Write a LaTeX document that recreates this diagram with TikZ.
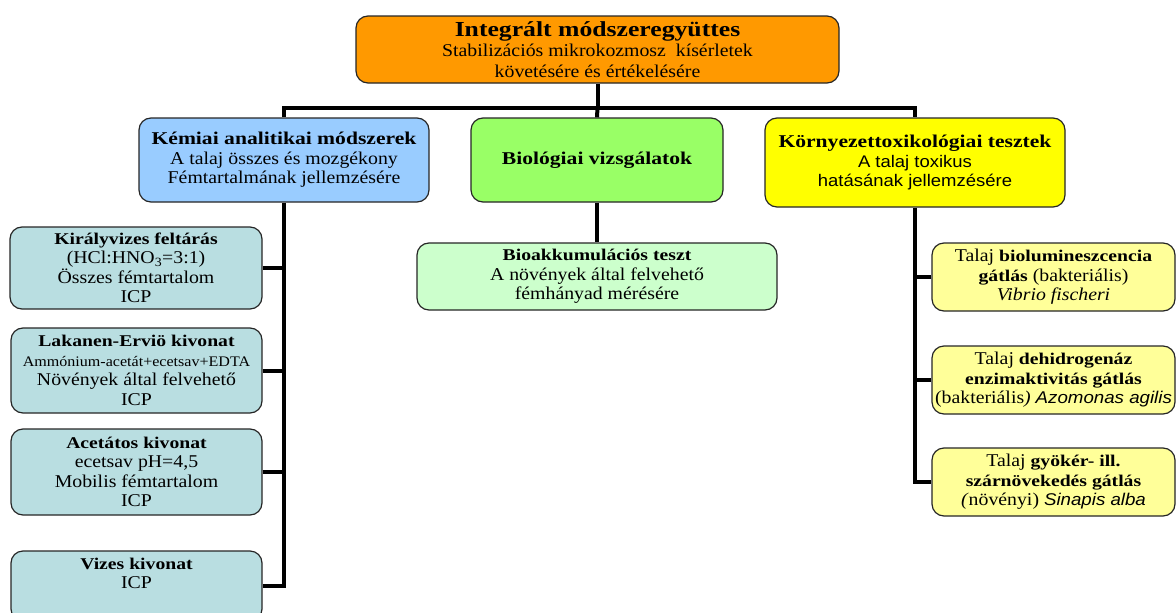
\documentclass[tikz,border=0pt]{standalone}
\usepackage{fontspec}
\setmainfont{Liberation Serif}[FakeStretch=1.1]
\newfontfamily\headfam{Liberation Serif}[FakeStretch=1.2]
\newfontfamily\arialfam{Liberation Sans}[FakeStretch=1.1]
% bold heading text at a given size
\newcommand\hd[2]{{\headfam\bfseries\fontsize{#1}{20}\selectfont #2}}
\newcommand\fs[2]{\fontsize{#1}{#2}\selectfont}

\definecolor{cTop}{HTML}{FF9900}
\definecolor{cChem}{HTML}{99CCFF}
\definecolor{cBio}{HTML}{99FF66}
\definecolor{cEnv}{HTML}{FFFF00}
\definecolor{cChemSub}{RGB}{185,222,225}
\definecolor{cBioSub}{HTML}{CCFFCC}
\definecolor{cEnvSub}{HTML}{FFFF99}

\begin{document}
\begin{tikzpicture}[x=1pt,y=-1pt,
  box/.style={draw=black!85, line width=1.2pt, rounded corners=12pt,
    align=center, inner sep=0pt, font=\fs{18}{19.5}},
  link/.style={line width=4pt, black}]
\useasboundingbox (0,0) rectangle (1176,613);

% top level
\node[box, fill=cTop, minimum width=483pt, minimum height=67pt, font=\fs{18}{20.5}]
  (top) at (597.5,49.5)
  {\hd{21.4}{Integrált módszeregyüttes}\\Stabilizációs mikrokozmosz~ kísérletek\\követésére és értékelésére};

% second level
\node[box, fill=cChem, minimum width=290pt, minimum height=84pt] (kem) at (284,160)
  {\hd{18}{Kémiai analitikai módszerek}\\A talaj összes és mozgékony\\Fémtartalmának jellemzésére};
\node[box, fill=cBio, minimum width=252pt, minimum height=84pt] (bio) at (597,160)
  {\hd{18}{Biológiai vizsgálatok}};
\node[box, fill=cEnv, minimum width=300pt, minimum height=89pt] (env) at (915,162.5)
  {\hd{18}{Környezettoxikológiai tesztek}\\{\arialfam\fs{16.8}{19.5}A talaj toxikus}\\{\arialfam\fs{16.8}{19.5}hatásának jellemzésére}};

% chemical methods
\node[box, fill=cChemSub, minimum width=252pt, minimum height=82pt] (k1) at (136,268)
  {\hd{16.4}{Királyvizes feltárás}\\(HCl:HNO\textsubscript{3}=3:1)\\Összes fémtartalom\\ICP};
\node[box, fill=cChemSub, minimum width=251pt, minimum height=85pt] (k2) at (136.5,370.5)
  {\hd{16.4}{Lakanen-Erviö kivonat}\\{\fs{14.6}{16}Ammónium-acetát+ecetsav+EDTA}\\Növények által felvehető\\ICP};
\node[box, fill=cChemSub, minimum width=251pt, minimum height=86pt] (k3) at (136.5,472)
  {\hd{16.4}{Acetátos kivonat}\\ecetsav pH=4,5\\Mobilis fémtartalom\\ICP};
\node[box, fill=cChemSub, minimum width=251pt, minimum height=70pt] (k4) at (136.5,586)
  {\hd{16.4}{Vizes kivonat}\\ICP\\\strut};

% biological test
\node[box, fill=cBioSub, minimum width=360pt, minimum height=67pt] (bioakk) at (597,276.5)
  {\hd{16.4}{Bioakkumulációs teszt}\\A növények által felvehető\\fémhányad mérésére};

% ecotoxicological tests
\node[box, fill=cEnvSub, minimum width=243pt, minimum height=68pt] (r1) at (1053.5,277)
  {Talaj \hd{16.4}{biolumineszcencia}\\\hd{16.4}{gátlás} (bakteriális)\\\textit{Vibrio fischeri}};
\node[box, fill=cEnvSub, minimum width=243pt, minimum height=68pt] (r2) at (1053.5,380)
  {Talaj \hd{16.4}{dehidrogenáz}\\\hd{16.4}{enzimaktivitás gátlás}\\(bakteriális\textit{)} {\arialfam\itshape\fs{17}{19.5}Azomonas agilis}};
\node[box, fill=cEnvSub, minimum width=243pt, minimum height=68pt] (r3) at (1053.5,482)
  {Talaj \hd{16.4}{gyökér- ill.}\\\hd{16.4}{szárnövekedés gátlás}\\\textit{(}növényi) {\arialfam\itshape\fs{17}{19.5}Sinapis alba}};

% connectors
\draw[link] (top.south) -- ++(0,24) coordinate (hub);
\draw[link] (kem.north) |- (hub) -| (env.north);
\draw[link] (hub) -- (bio.north);
\draw[link] (bio.south) -- (bioakk.north);

\draw[link] (kem.south) -- (kem.south |- k4.east) -- (k4.east);
\foreach \n in {k1,k2,k3} \draw[link] (\n.east) -- (\n.east -| kem.south);

\draw[link] (env.south) -- (env.south |- r3.west) -- (r3.west);
\foreach \n in {r1,r2} \draw[link] (\n.west) -- (\n.west -| env.south);
\end{tikzpicture}
\end{document}
